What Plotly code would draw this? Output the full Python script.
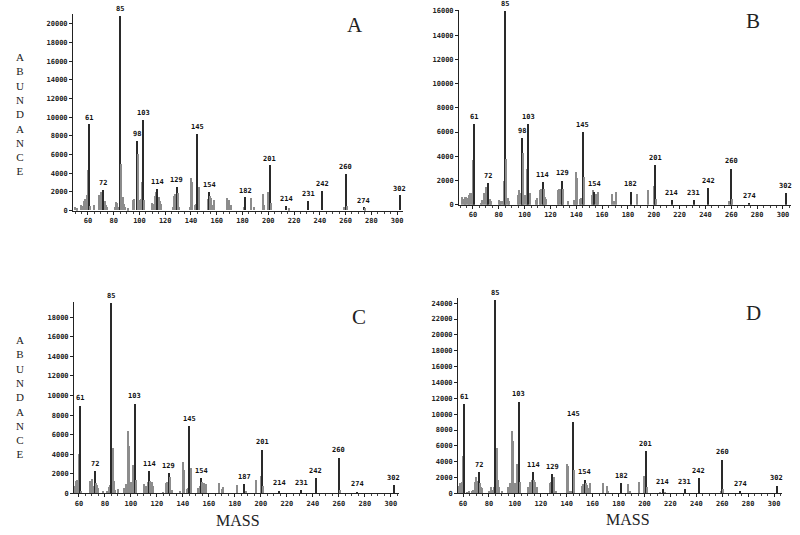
import plotly.graph_objects as go

# panel A
mass_a = [50, 52, 55, 56, 57, 58, 59, 60, 61, 62, 65, 69, 70, 71, 72, 73, 74, 75,
          81, 82, 83, 84, 85, 86, 87, 88, 89, 91, 95, 96, 98, 99, 100, 101, 102, 103, 104,
          110, 111, 112, 113, 114, 115, 116, 117, 126, 127, 128, 129, 130, 131,
          139, 140, 141, 143, 144, 145, 146, 153, 154, 155, 156, 157, 158,
          168, 170, 171, 181, 182, 187, 189, 196, 197, 200, 201, 202,
          214, 216, 231, 242, 259, 260, 261, 274, 275, 302]
abund_a = [400, 200, 600, 500, 1000, 1200, 1600, 4300, 9200, 500, 600, 1600, 2000, 1400, 2200, 1000, 600, 300,
           300, 900, 800, 300, 20800, 4900, 1400, 700, 400, 200, 1100, 1200, 7400, 6000, 1100, 1200, 3000, 9700, 1100,
           800, 700, 1500, 2000, 2300, 1400, 1000, 700, 300, 1500, 1700, 2500, 1800, 400,
           300, 3500, 3000, 600, 700, 8200, 2500, 1200, 2000, 1500, 1300, 600, 1100,
           1300, 1100, 600, 400, 1400, 1300, 400, 1700, 600, 2000, 4800, 800,
           500, 200, 1000, 2100, 300, 3900, 500, 300, 200, 1600]
labels_a = [61, 72, 85, 98, 103, 114, 129, 145, 154, 182, 201, 214, 231, 242, 260, 274, 302]

# panel B
mass_b = [52, 53, 54, 55, 56, 57, 58, 59, 60, 61, 66, 67, 69, 70, 71, 72, 73, 74,
          80, 81, 82, 83, 84, 85, 86, 87, 88, 95, 96, 97, 98, 99, 100, 101, 102, 103, 104,
          109, 110, 112, 113, 114, 115, 116, 117, 126, 127, 128, 129, 130,
          134, 138, 139, 140, 141, 143, 144, 145, 146, 152, 153, 154, 155, 156, 157,
          168, 169, 171, 182, 187, 196, 200, 201, 202, 214, 231, 242, 258, 260, 261, 274, 302]
abund_b = [700, 500, 700, 700, 600, 800, 1000, 1000, 3700, 6700, 200, 400, 1000, 1500, 800, 1800, 500, 300,
           400, 300, 300, 300, 2000, 16000, 3800, 600, 300, 800, 1200, 1000, 5500, 4300, 800, 800, 3000, 6700, 1000,
           400, 600, 1200, 1300, 1900, 1300, 700, 500, 1200, 1300, 1300, 2000, 1300,
           300, 400, 400, 2700, 2200, 500, 600, 6000, 2300, 800, 1200, 1100, 900, 600, 1100,
           900, 300, 1100, 1100, 900, 1200, 1600, 3300, 500, 400, 400, 1400, 300, 3000, 500, 100, 1000]
labels_b = [61, 72, 85, 98, 103, 114, 129, 145, 154, 182, 201, 214, 231, 242, 260, 274, 302]

# panel C
mass_c = [56, 57, 58, 59, 60, 61, 62, 69, 70, 71, 72, 73, 74, 75,
          79, 82, 83, 84, 85, 86, 87, 88, 90, 95, 96, 98, 99, 100, 102, 103, 104,
          110, 112, 113, 114, 115, 116, 117, 125, 127, 128, 129, 130, 132,
          138, 140, 141, 143, 144, 145, 146, 152, 153, 154, 155, 156, 157, 158,
          168, 170, 171, 182, 187, 189, 196, 200, 201, 202, 214, 231, 242, 260, 261, 274, 302]
abund_c = [600, 800, 1300, 1400, 4100, 9000, 300, 1300, 1500, 800, 2300, 1100, 900, 600,
           300, 300, 700, 900, 19500, 4700, 1300, 400, 500, 600, 1000, 6400, 4900, 1200, 2900, 9200, 1400,
           1000, 800, 1200, 2300, 1300, 1200, 800, 200, 1100, 1200, 2100, 1700, 400,
           300, 3300, 2400, 500, 600, 6900, 2600, 600, 800, 1600, 1200, 1100, 600, 1000,
           1100, 500, 700, 900, 1000, 300, 1400, 1800, 4500, 800, 300, 400, 1600, 3700, 400, 200, 900]
labels_c = [61, 72, 85, 103, 114, 129, 145, 154, 187, 201, 214, 231, 242, 260, 274, 302]

# panel D
mass_d = [56, 57, 58, 59, 60, 61, 63, 65, 67, 68, 69, 70, 71, 72, 73, 74, 75,
          80, 81, 82, 83, 84, 85, 86, 87, 88, 90, 95, 96, 98, 99, 100, 101, 102, 103, 104,
          110, 112, 113, 114, 115, 116, 117, 127, 128, 129, 130, 132,
          140, 141, 143, 144, 145, 146, 152, 153, 154, 155, 156, 157, 158,
          168, 171, 172, 182, 187, 189, 196, 200, 201, 202, 212, 214, 216,
          231, 242, 259, 260, 261, 274, 302]
abund_d = [600, 1000, 1400, 1500, 4800, 11300, 200, 300, 300, 500, 1500, 2100, 1600, 2700, 1300, 800, 700,
           300, 400, 800, 500, 900, 24400, 5800, 1700, 800, 400, 900, 1300, 7900, 6600, 1400, 800, 3700, 11600, 1500,
           900, 1500, 1700, 2700, 1700, 1500, 800, 1400, 1500, 2500, 2100, 400,
           3800, 3500, 300, 300, 9100, 3000, 1000, 1200, 1800, 1300, 1100, 700, 1300,
           1300, 1000, 300, 1300, 1200, 400, 1500, 2200, 5400, 800, 200, 600, 200,
           600, 2000, 300, 4300, 600, 300, 1000]
labels_d = [61, 72, 85, 103, 114, 129, 145, 154, 182, 201, 214, 231, 242, 260, 274, 302]

x_ticks = list(range(60, 301, 20))
y_title = "ABUNDANCE"

W, H = 800, 535
TICKFONT = dict(family="DejaVu Sans Mono", size=7, color="#222", weight="bold")
TITLEFONT = dict(family="Liberation Serif", size=16, color="#222")


def px(x):
    return x / W


def py(y):
    return 1 - y / H


# (name, masses, abundances, labels, x pixel range, y pixel range, mass range, abundance range, letter pos)
panels = [
    ("A", mass_a, abund_a, labels_a, (73, 403), (12.5, 211), (48.4, 304.6), (0, 21000), (355, 23)),
    ("B", mass_b, abund_b, labels_b, (459, 791), (7.8, 205), (49.2, 306.2), (0, 16100), (753, 19)),
    ("C", mass_c, abund_c, labels_c, (74, 399), (303, 497), (56.2, 306.2), (0, 19600), (359, 319)),
    ("D", mass_d, abund_d, labels_d, (458, 782), (299, 497), (56.1, 306.1), (0, 24700), (753, 315)),
]

fig = go.Figure()
annotations = []

for i, (name, m, a, labs, (x0, x1), (y0, y1), xr, yr, (lx, ly)) in enumerate(panels):
    assert len(m) == len(a)
    n = "" if i == 0 else str(i + 1)
    colors = ["#2a2a2a" if v in labs else "#8c8c8c" for v in m]
    widths = [0.8 if v in labs else 1.0 for v in m]
    fig.add_trace(go.Bar(x=m, y=a, width=widths, marker=dict(color=colors, line=dict(width=0)),
                         xaxis="x" + n, yaxis="y" + n, showlegend=False))

    fig.layout["xaxis" + n] = dict(
        domain=[px(x0), px(x1)], range=list(xr), anchor="y" + n,
        tickvals=x_ticks, ticks="outside", ticklen=3, tickcolor="#222",
        minor=dict(dtick=5, tick0=0, ticks="outside", ticklen=2, tickcolor="#444"),
        showline=True, linecolor="#222", linewidth=1, showgrid=False, zeroline=False,
        tickfont=TICKFONT, fixedrange=True)
    fig.layout["yaxis" + n] = dict(
        domain=[py(y1), py(y0)], range=list(yr), anchor="x" + n,
        dtick=2000, tickformat="d", ticks="outside", ticklen=3, tickcolor="#222",
        showline=True, linecolor="#222", linewidth=1, showgrid=False, zeroline=False,
        tickfont=TICKFONT, fixedrange=True)

    for lab in labs:
        annotations.append(dict(
            x=lab, y=a[m.index(lab)], xref="x" + n, yref="y" + n,
            text=str(lab), showarrow=False, yanchor="bottom", yshift=1,
            font=dict(family="DejaVu Sans Mono", size=7, color="#111", weight="bold")))

    annotations.append(dict(
        x=px(lx), y=py(ly), xref="paper", yref="paper", text=name, showarrow=False,
        xanchor="center", yanchor="middle",
        font=dict(family="Liberation Serif", size=21, color="#222")))

# vertical ABUNDANCE labels, one letter per line (top and bottom rows)
for cy in (113.5, 399):
    annotations.append(dict(
        x=px(20), y=py(cy), xref="paper", yref="paper", text="<br>".join(y_title),
        showarrow=False, xanchor="center", yanchor="middle", align="center",
        font=dict(family="Liberation Serif", size=11, color="#222")))

# MASS labels
for mx, my in ((238, 524), (628, 523)):
    annotations.append(dict(
        x=px(mx), y=py(my), xref="paper", yref="paper", text="MASS", showarrow=False,
        xanchor="center", yanchor="middle", font=TITLEFONT))

fig.update_layout(
    width=W, height=H,
    margin=dict(l=0, r=0, t=0, b=0),
    paper_bgcolor="white", plot_bgcolor="white",
    bargap=0, annotations=annotations,
)

fig.write_html("out.html", config={"displayModeBar": False},
               post_script="document.body.style.margin='0';")
